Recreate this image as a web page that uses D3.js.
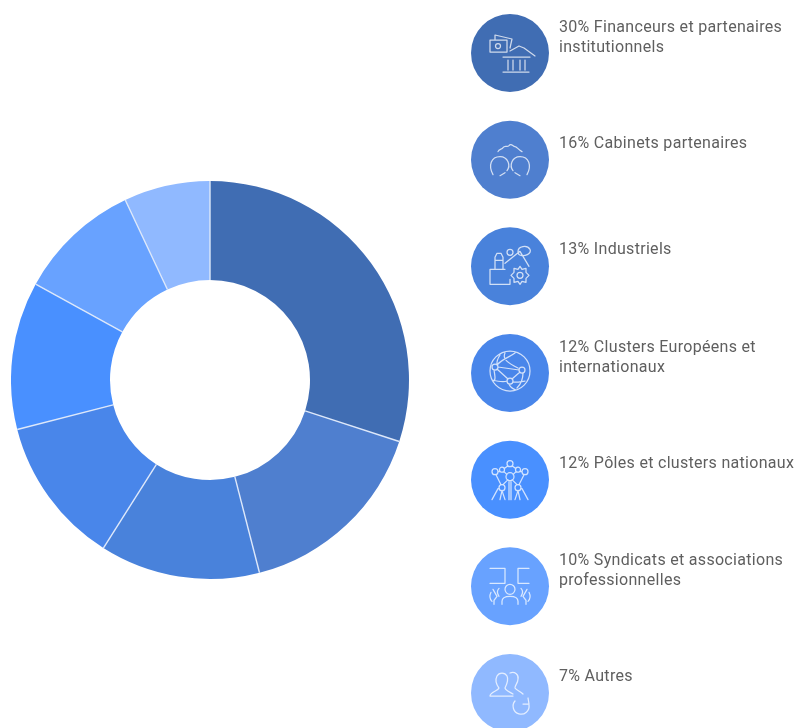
<!DOCTYPE html>
<html lang="fr">
<head>
<meta charset="utf-8">
<script src="https://cdnjs.cloudflare.com/ajax/libs/d3/7.8.5/d3.min.js"></script>
<style>
html,body{margin:0;padding:0;background:#fff;}
svg{display:block;}
text{font-family:Roboto,sans-serif;font-size:16px;letter-spacing:.3px;fill:#5f5f5f;}
</style>
</head>
<body>
<svg id="chart" width="796" height="728" viewBox="0 0 796 728"></svg>
<script>
const categories = ["Financeurs et partenaires institutionnels","Cabinets partenaires","Industriels","Clusters Européens et internationaux","Pôles et clusters nationaux","Syndicats et associations professionnelles","Autres"];
const values = [30,16,13,12,12,10,7];
const labelLines = [
  ["30% Financeurs et partenaires","institutionnels"],
  ["16% Cabinets partenaires"],
  ["13% Industriels"],
  ["12% Clusters Européens et","internationaux"],
  ["12% Pôles et clusters nationaux"],
  ["10% Syndicats et associations","professionnelles"],
  ["7% Autres"]
];
const colors = ["#416DB3","#4F7FCF","#4A82DB","#4A86EA","#4A90FF","#67A2FF","#90B9FF"];

// Line-art icon glyphs, in the local coordinates of each legend disc
const ring = (x,y,r)=>`M${x+r},${y}a${r},${r} 0 1,0 ${-2*r},0a${r},${r} 0 1,0 ${2*r},0`;
const icons = [
  "M-20,-13H-3V-1H-20ZM-15,-13L-15,-18L2,-14L0,-5"+ring(-12,-7,2.5)+"M0,-2L9,-7L14,-5L25,3M-7,4H20M-2,7V17M3,7V17M10,7V17M15,7V17M-7,19H19",
  "M-12,-8C-11,-11 -8,-10 -7,-12C-5,-15 -3,-12 -1,-14C1,-17 3,-13 5,-13C7,-13 8,-10 12,-8M-17,15C-22,6 -19,-3 -10,-3C-2,-3 1,6 -3,11M-5,13L-10,16M17,15C22,6 19,-3 10,-3C2,-3 -1,6 3,11M5,13L10,16",
  "M-20,3V18H0V13M-20,3H-5M-15,3V-9L-13,-13H-9L-7,-9V3M-15,-6H-7"+ring(0,-14,3)+"M8,-15C8,-20 17,-22 20,-17C22,-12 14,-10 11,-11C9,-11 8,-13 8,-15M-5,-3L10,-15L19,0M10,0L12,3L16,2L16,6L19,9L16,12L16,16L12,15L10,18L8,15L4,16L4,12L1,9L4,6L4,2L8,3Z"+ring(10,9,3),
  ring(0,-2,20)+ring(-15,-6,3)+ring(12,-3,3)+ring(0,8,3)+"M-13,-8C-8,-14 0,-16 5,-20M-13,-4L-2,6M-12,-6L9,-3M10,-1L2,6M-16,-3C-15,3 -14,8 -17,8M-18,7C-10,9 -5,9 -3,8M3,9C8,10 12,8 15,8M-1,11C0,14 3,16 6,17M-5,-20C-8,-14 -2,-10 8,-5M13,0C13,6 11,11 7,15M-10,-18C-14,-12 -13,-9 -13,-8",
  ring(0,-16,3)+ring(-15,-8,3)+ring(15,-8,3)+ring(0,-3,4)+ring(-8,-10,2.5)+ring(8,-10,2.5)+ring(-8,8,3)+ring(8,8,3)+"M-2,-14L-6,-11M2,-14L6,-11M-12,-8H-10M12,-8H10M-6,-8L-3,-5M6,-8L3,-5M-14,-5L-9,5M14,-5L9,5M-2,0L-7,5M2,0L7,5M-1,1V20M1,1V20M-8,11L-10,20M-8,11L-5,20M8,11L10,20M8,11L5,20M-12,9L-18,20M12,9L18,20",
  "M-20,-18H-5V-3H-20M19,-18H8V-3H19M-11,10C-13,7 -13,4 -11,2M11,10C13,7 13,4 11,2"+ring(0,3,5)+"M-8,18V15C-8,11 -4,10 0,10C4,10 8,11 8,15V18M-17,3L-13,10L-16,14V18M17,3L13,10L16,14V18M-19,6C-21,10 -20,13 -18,15M19,6C21,10 20,13 18,15",
  "M-20,3C-20,-1 -12,-2 -11,-5C-14,-9 -15,-13 -13,-17C-11,-21 -5,-21 -3,-17C-1,-13 -3,-9 -5,-5C-4,-2 0,-1 3,1M-20,3H3M0,-20C5,-22 9,-18 8,-14C8,-10 5,-8 5,-5C6,-3 10,-2 13,1M5,8A8,8 0 1,0 19,12M18,5L19,11L13,11"
];

const svg = d3.select("#chart");
svg.append("defs").append("filter").attr("id","soft").attr("x","-5%").attr("y","-5%").attr("width","110%").attr("height","110%")
  .append("feGaussianBlur").attr("stdDeviation",0.55);

const color = d3.scaleOrdinal().domain(categories).range(colors);
const pie = d3.pie().value((d,i)=>values[i]).sort(null);
const arc = d3.arc().innerRadius(100).outerRadius(199);
const slices = pie(categories);

const root = svg.append("g").attr("filter","url(#soft)");
const donut = root.append("g").attr("transform","translate(210,380)");

donut.selectAll("path").data(slices).join("path")
  .attr("d",arc).attr("fill",d=>color(d.data));

// thin pale separators between slices, none on the outer and inner edges
donut.selectAll("line").data(slices).join("line")
  .attr("x1",d=>d3.pointRadial(d.startAngle,100)[0])
  .attr("y1",d=>d3.pointRadial(d.startAngle,100)[1])
  .attr("x2",d=>d3.pointRadial(d.startAngle,199)[0])
  .attr("y2",d=>d3.pointRadial(d.startAngle,199)[1])
  .attr("stroke","#dde8fa").attr("stroke-width",1.4);

const y = d3.scalePoint().domain(categories).range([53,693]);

const rows = root.append("g").selectAll("g").data(categories).join("g")
  .attr("transform",d=>`translate(510,${y(d)})`);

rows.append("circle").attr("r",39).attr("fill",d=>color(d));
rows.append("path").attr("d",(d,i)=>icons[i]).attr("fill","none")
  .attr("stroke","rgba(255,255,255,.75)").attr("stroke-width",1.25)
  .attr("stroke-linejoin","round").attr("stroke-linecap","round");

rows.each(function(d,i){
  const lines = labelLines[i];
  const t = d3.select(this).append("text");
  const first = lines.length>1 ? -21 : -12;
  lines.forEach((l,k)=>t.append("tspan").attr("x",49).attr("y",first+k*20).text(l));
});
</script>
</body>
</html>
